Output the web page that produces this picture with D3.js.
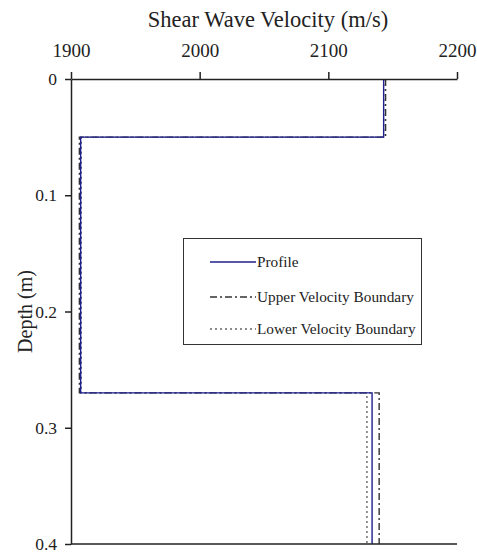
<!DOCTYPE html>
<html><head><meta charset="utf-8">
<script src="https://cdn.jsdelivr.net/npm/d3@7"></script>
<style>
html,body{margin:0;padding:0;background:#fff;}
svg{display:block;font-family:"Liberation Serif","Times New Roman",serif;}
</style></head>
<body>
<svg id="c" width="477" height="554"></svg>
<script>
const depthBounds = [0, 0.05, 0.27, 0.4];
const profileVel = [2143, 1907.5, 2134];
const upperVel = [2144.5, 1906.5, 2139.5];
const lowerVel = [2143, 1908, 2130];
const xTicks = [1900, 2000, 2100, 2200];
const yTicks = [0, 0.1, 0.2, 0.3, 0.4];
const seriesNames = ["Profile", "Upper Velocity Boundary", "Lower Velocity Boundary"];

const svg = d3.select("#c");
const L = 71, R = 457, T = 79, B = 544;
const x = d3.scaleLinear().domain([1900, 2200]).range([L, R]);
const y = d3.scaleLinear().domain([0, 0.4]).range([T, B]);
const axisColor = "#222";

function stepPoints(vels) {
  const pts = [];
  vels.forEach((v, i) => {
    pts.push([v, depthBounds[i]]);
    pts.push([v, depthBounds[i + 1]]);
  });
  return pts;
}
const line = d3.line().x(d => x(d[0])).y(d => y(d[1]));

const styles = [
  {data: profileVel, color: "#1f1f8f", dash: null, w: 1.4},
  {data: upperVel, color: "#333", dash: "7,3,2,3", w: 1.4},
  {data: lowerVel, color: "#666", dash: "2,3", w: 1.4}
];
[styles[1], styles[2], styles[0]].forEach(s => {
  svg.append("path").attr("d", line(stepPoints(s.data)))
    .attr("fill", "none").attr("stroke", s.color).attr("stroke-width", s.w)
    .attr("stroke-dasharray", s.dash);
});

// axes
const xAxis = svg.append("g").attr("transform", `translate(0,${T})`)
  .call(d3.axisTop(x).tickValues(xTicks).tickFormat(d3.format("d")).tickSize(7).tickSizeOuter(0).tickPadding(15));
const yAxis = svg.append("g").attr("transform", `translate(${L},0)`)
  .call(d3.axisLeft(y).tickValues(yTicks).tickFormat(d => d === 0 ? "0" : d3.format(".1f")(d)).tickSize(6).tickSizeOuter(0).tickPadding(8));
[xAxis, yAxis].forEach(g => {
  g.selectAll("path,line").attr("stroke", axisColor).attr("stroke-width", 1.5);
  g.selectAll("text").attr("fill", "#222").style("font-family", "Liberation Serif");
});
xAxis.selectAll("text").style("font-size", "19px");
yAxis.selectAll("text").style("font-size", "17.5px");
svg.append("line").attr("x1", L).attr("x2", R).attr("y1", y(0.4)).attr("y2", y(0.4))
  .attr("stroke", axisColor).attr("stroke-width", 1.5);

// titles
svg.append("text").attr("x", 268).attr("y", 27).attr("text-anchor", "middle")
  .style("font-size", "22.5px").attr("fill", "#222").text("Shear Wave Velocity (m/s)");
svg.append("text").attr("transform", `translate(32,${(T + B) / 2}) rotate(-90)`).attr("text-anchor", "middle")
  .style("font-size", "20px").attr("fill", "#222").text("Depth (m)");

// legend
const lg = svg.append("g");
lg.append("rect").attr("x", 183.5).attr("y", 238.5).attr("width", 238).attr("height", 106)
  .attr("fill", "#fff").attr("stroke", "#333").attr("stroke-width", 1);
const rowY = [262, 297, 329];
styles.forEach((s, i) => {
  lg.append("line").attr("x1", 210).attr("x2", 256).attr("y1", rowY[i]).attr("y2", rowY[i])
    .attr("stroke", s.color).attr("stroke-width", 1.4).attr("stroke-dasharray", s.dash);
  lg.append("text").attr("x", 257).attr("y", rowY[i] + 5).style("font-size", "15.3px")
    .attr("fill", "#222").text(seriesNames[i]);
});
</script>
</body></html>
